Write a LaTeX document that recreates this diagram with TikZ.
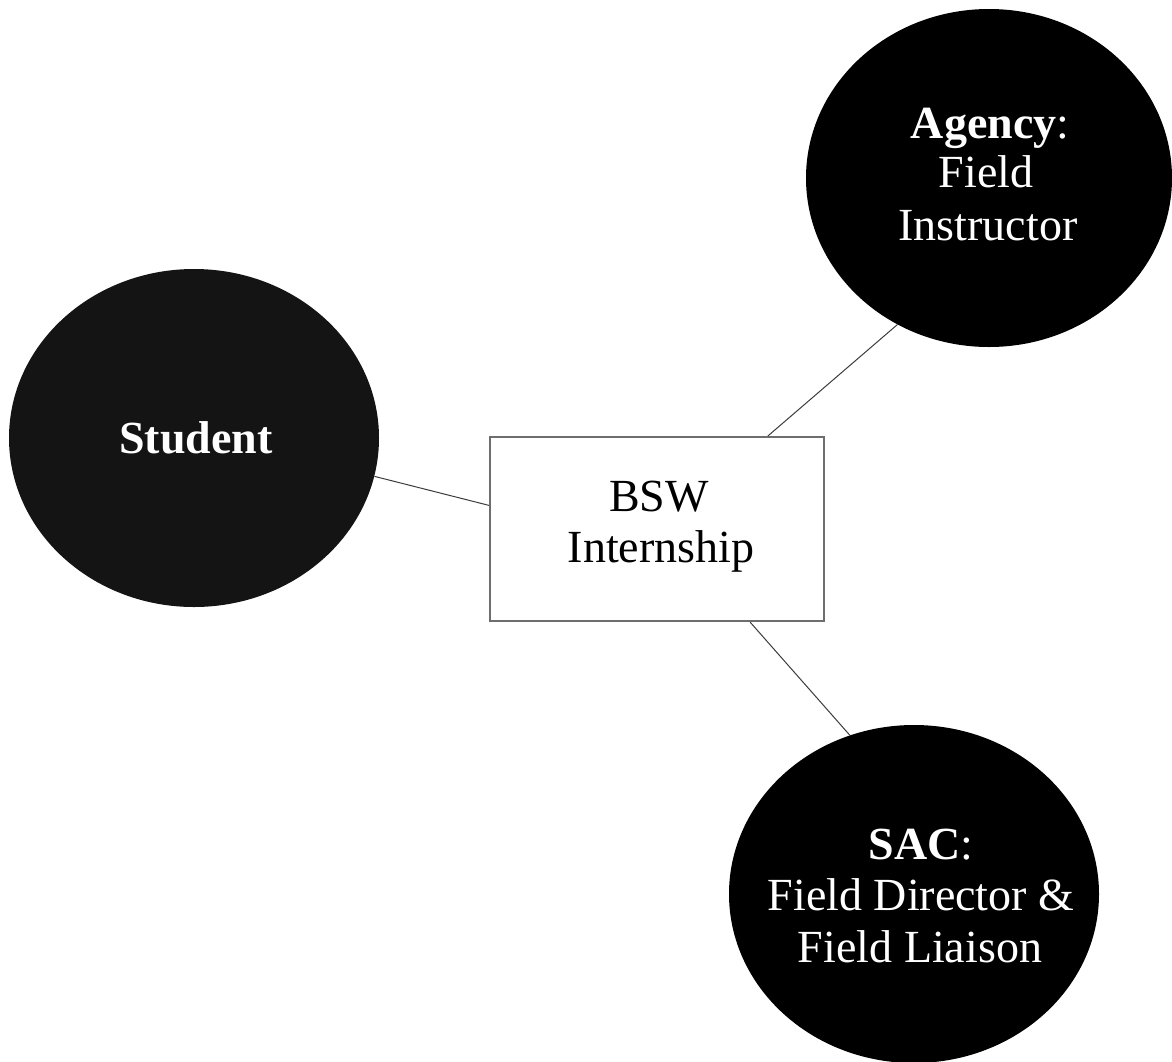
\documentclass[tikz,border=0pt]{standalone}
\usepackage{fontspec}
\setmainfont{Liberation Serif}
\usetikzlibrary{shapes.geometric}
\begin{document}
\begin{tikzpicture}[x=1pt,y=-1pt,
  blob/.style={ellipse, draw=none, fill=black, inner sep=0pt, minimum width=370pt, minimum height=338pt},
  wtext/.style={text=white, anchor=base, inner sep=0pt, font=\fontsize{46}{51}\selectfont},
  btext/.style={text=black, anchor=base, inner sep=0pt, font=\fontsize{46}{51}\selectfont},
  hub/.style={rectangle, draw={rgb,255:red,110;green,110;blue,110}, line width=2pt, fill=white, minimum width=334pt, minimum height=184pt, inner sep=0pt},
  link/.style={draw={rgb,255:red,60;green,60;blue,60}, line width=1pt}]
\useasboundingbox (0,0) rectangle (1172,1061);
\clip (0,0) rectangle (1172,1061);
\fill[white] (0,0) rectangle (1172,1061);

\node[blob, fill={rgb,255:red,20;green,20;blue,20}] (stu) at (194,438) {};
\node[blob, minimum width=366pt] (agy) at (989,178) {};
\node[blob] (sac) at (914,894) {};
\node[hub] (box) at (657,529) {};

\node[wtext] (tstu) at (196,453) {\textbf{Student}};
\node[wtext] (tagy1) at (990,138) {\textbf{Agency}:};
\node[wtext] (tagy2) at (986,187) {Field};
\node[wtext] (tagy3) at (988,240) {Instructor};
\node[wtext] (tsac1) at (921,859) {\textbf{SAC}:};
\node[wtext] (tsac2) at (921,910) {Field Director \&};
\node[wtext] (tsac3) at (920,962) {Field Liaison};
\node[btext] (tbox1) at (659,511) {BSW};
\node[btext] (tbox2) at (661,562) {Internship};

\draw[link] (stu.-12) -- (box.172.4);
\draw[link] (agy.-122.6) -- (box.40.4);
\draw[link] (box.-45.3) -- (sac.112.3);
\end{tikzpicture}
\end{document}
